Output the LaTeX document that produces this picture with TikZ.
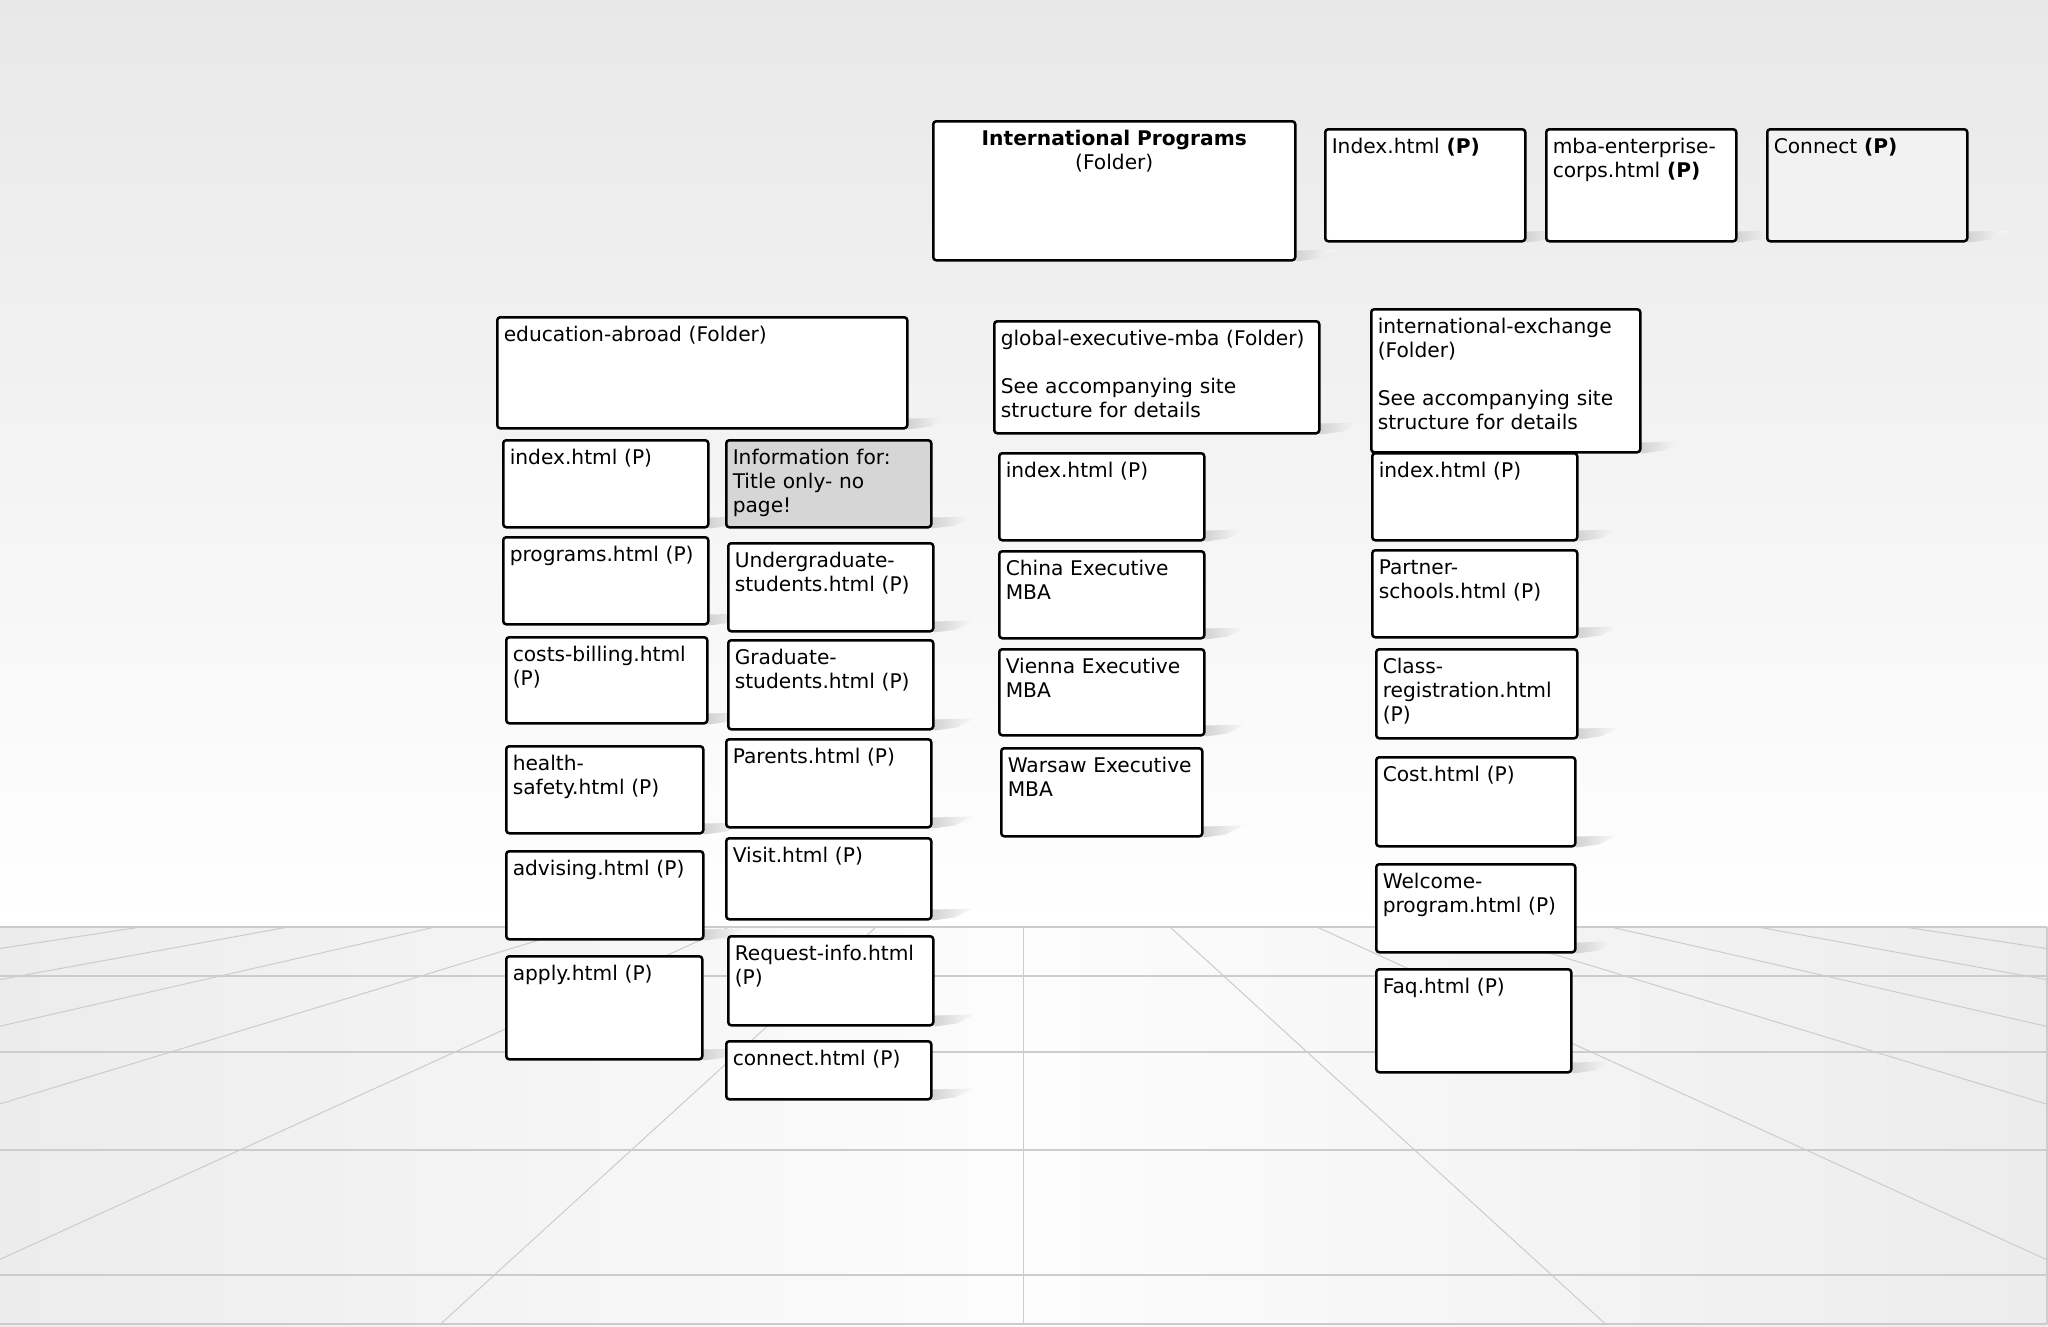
\documentclass[tikz,border=0pt]{standalone}
\usepackage{fontspec}
\setmainfont{DejaVu Sans}
\usetikzlibrary{backgrounds}

\tikzset{
  box/.style={draw=black, line width=2.5pt, rounded corners=3pt, fill=white,
    font=\fontsize{20.2}{24}\selectfont, inner xsep=6.5pt, inner ysep=6pt,
    text height=18.5pt, align=left},
  pg/.style 2 args={box, anchor=north west,
    /utils/exec={\pgfmathsetlengthmacro\pgwd{#1-13}\pgfmathsetlengthmacro\pgdp{#2-30.5}},
    text width=\pgwd, text depth=\pgdp},
  gridline/.style={draw=gray!40, line width=1pt},
  drop/.style={left color=gray!35, right color=gray!4}
}

\begin{document}
\begin{tikzpicture}[x=1pt, y=-1pt]
    \useasboundingbox (0,0) rectangle (2048,1326);
    % top level
    \node[pg={362}{139}, align=center] (ip) at (932,120) {\textbf{International Programs}\\(Folder)};
    \node[pg={200}{112}] (pidx) at (1324,128) {Index.html \textbf{(P)}};
    \node[pg={190}{112}] (mbaec) at (1545,128) {mba-enterprise-\\corps.html \textbf{(P)}};
    \node[pg={200}{112}, fill=gray!10] (pconn) at (1766,128) {Connect \textbf{(P)}};
    % education-abroad
    \node[pg={410}{111}] (edu) at (496,316) {education-abroad (Folder)};
    \node[pg={205}{87}] (eidx) at (502,439) {index.html (P)};
    \node[pg={205}{87}, fill=gray!32] (einfo) at (725,439) {Information for:\\Title only- no\\page!};
    \node[pg={205}{87}] (eprog) at (502,536) {programs.html (P)};
    \node[pg={205}{88}] (eugrad) at (727,542) {Undergraduate-\\students.html (P)};
    \node[pg={201}{86}] (ecost) at (505,636) {costs-billing.html\\(P)};
    \node[pg={205}{89}] (egrad) at (727,639) {Graduate-\\students.html (P)};
    \node[pg={197}{87}] (ehealth) at (505,745) {health-\\safety.html (P)};
    \node[pg={205}{88}] (eparent) at (725,738) {Parents.html (P)};
    \node[pg={197}{88}] (eadvis) at (505,850) {advising.html (P)};
    \node[pg={205}{81}] (evisit) at (725,837) {Visit.html (P)};
    \node[pg={196}{103}] (eapply) at (505,955) {apply.html (P)};
    \node[pg={205}{89}] (ereq) at (727,935) {Request-info.html\\(P)};
    \node[pg={205}{58}] (econn) at (725,1040) {connect.html (P)};
    % global-executive-mba
    \node[pg={325}{112}] (gem) at (993,320) {global-executive-mba (Folder)\\[24pt]See accompanying site\\structure for details};
    \node[pg={205}{87}] (gidx) at (998,452) {index.html (P)};
    \node[pg={205}{87}] (gchina) at (998,550) {China Executive\\MBA};
    \node[pg={205}{86}] (gvienna) at (998,648) {Vienna Executive\\MBA};
    \node[pg={201}{88}] (gwarsaw) at (1000,747) {Warsaw Executive\\MBA};
    % international-exchange
    \node[pg={269}{143}] (ixf) at (1370,308) {international-exchange\\(Folder)\\[24pt]See accompanying site\\structure for details};
    \node[pg={205}{87}] (xidx) at (1371,452) {index.html (P)};
    \node[pg={205}{87}] (xpartner) at (1371,549) {Partner-\\schools.html (P)};
    \node[pg={201}{89}] (xclass) at (1375,648) {Class-\\registration.html\\(P)};
    \node[pg={199}{89}] (xcost) at (1375,756) {Cost.html (P)};
    \node[pg={199}{88}] (xwelcome) at (1375,863) {Welcome-\\program.html (P)};
    \node[pg={195}{103}] (xfaq) at (1375,968) {Faq.html (P)};

    \begin{pgfonlayer}{background}
        % wall and floor
        \shade[top color=gray!18, bottom color=white] (0,0) rectangle (2048,927);
        \shade[left color=gray!15, right color=gray!15, middle color=gray!2] (0,927) rectangle (2048,1326);
        \coordinate (vp) at (1023,793);
        \begin{scope}
            \clip (0,927) rectangle (2047,1324);
            \foreach \k [evaluate=\k as \bx using 1023+589*\k] in {-7,...,7}
                \draw[gridline] (vp) -- (\bx,1330);
        \end{scope}
        \foreach \fy in {927,976,1052,1150,1275,1324}
            \draw[gridline, line width=1.6pt] (0,\fy) -- (2047,\fy);
        \draw[gridline, line width=1.6pt] (2047,927) -- (2047,1324);
        % drop shadows
        \foreach \n in {ip,pidx,mbaec,pconn,edu,eidx,einfo,eprog,eugrad,ecost,egrad,ehealth,eparent,eadvis,evisit,eapply,ereq,econn,gem,gidx,gchina,gvienna,gwarsaw,ixf,xidx,xpartner,xclass,xcost,xwelcome,xfaq}
            \shade[drop] (\n.south east) -- ++(0,-11) -- ++(40,-1) -- ++(-18,9) -- cycle;
    \end{pgfonlayer}
\end{tikzpicture}
\end{document}
